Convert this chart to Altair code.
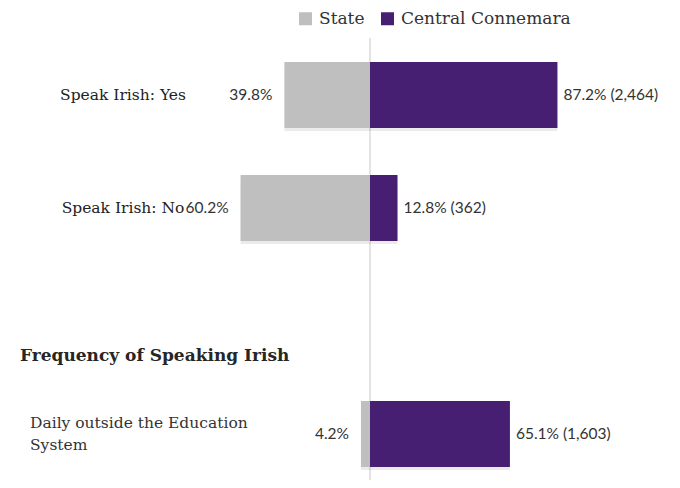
import altair as alt
import pandas as pd

categories = ["Speak Irish: Yes", "Speak Irish: No", "Daily outside the Education System"]
category_text = ["Speak Irish: Yes", "Speak Irish: No", "Daily outside the Education\nSystem"]
state_pct = [39.8, 60.2, 4.2]
connemara_pct = [87.2, 12.8, 65.1]
connemara_n = [2464, 362, 1603]
section_heading = "Frequency of Speaking Irish"
series = ["State", "Central Connemara"]
colors = ["#BFBFBF", "#461F73"]

y_domain = categories[:2] + [section_heading] + categories[2:]

rows = []
for c, t, s, v, n in zip(categories, category_text, state_pct, connemara_pct, connemara_n):
    rows.append({"cat": c, "text": t, "series": "State", "value": s,
                 "signed": -s, "label": f"{s:.1f}%"})
    rows.append({"cat": c, "text": t, "series": "Central Connemara", "value": v,
                 "signed": v, "label": f"{v:.1f}% ({n:,})"})
df = pd.DataFrame(rows)
head_df = pd.DataFrame({"cat": [section_heading], "text": [section_heading]})

xs = alt.Scale(domain=[-168.4, 140.5], nice=False, zero=False)
ys = alt.Scale(domain=y_domain, paddingInner=0.416, paddingOuter=0.2965, align=0.806)

base = alt.Chart(df)
X = alt.X("zero:Q", scale=xs, axis=None)
Y = alt.Y("cat:N", scale=ys, axis=None, sort=y_domain)

shadow = base.mark_bar(color="#000000", opacity=0.08, xOffset=2, yOffset=3).encode(
    x=X, x2="signed:Q", y=Y
).transform_calculate(zero="0")

bars = base.mark_bar().encode(
    x=X, x2="signed:Q", y=Y,
    color=alt.Color("series:N",
                    scale=alt.Scale(domain=series, range=colors),
                    legend=alt.Legend(title=None, orient="none", legendX=289, legendY=2,
                                      direction="horizontal", symbolType="square",
                                      symbolSize=169, symbolStrokeWidth=0,
                                      labelFont="DejaVu Serif", labelFontSize=17,
                                      labelLimit=400,
                                      labelColor="#333333", labelOffset=5,
                                      columnPadding=14, padding=0)),
).transform_calculate(zero="0")

rule = alt.Chart(pd.DataFrame({"zero": [0]})).mark_rule(color="#C8C8C8", strokeWidth=1).encode(
    x=alt.X("zero:Q", scale=xs, axis=None), y=alt.value(30), y2=alt.value(480)
)

state_lbl = base.transform_filter(alt.datum.series == "State").mark_text(
    align="right", baseline="middle", dx=-12, font="Lato", fontSize=15.5, color="#333333"
).encode(x=alt.X("signed:Q", scale=xs, axis=None), y=Y, text="label:N")

conn_lbl = base.transform_filter(alt.datum.series == "Central Connemara").mark_text(
    align="left", baseline="middle", dx=6, font="Lato", fontSize=15.5, color="#333333"
).encode(x=alt.X("signed:Q", scale=xs, axis=None), y=Y, text="label:N")

cat_short = base.transform_filter(
    (alt.datum.series == "State") & (alt.datum.cat != categories[2])
).mark_text(align="center", baseline="middle", font="DejaVu Serif", fontSize=15.5,
            color="#222222").encode(x=alt.value(115), y=Y, text="text:N")

cat_long = base.transform_filter(
    (alt.datum.series == "State") & (alt.datum.cat == categories[2])
).mark_text(align="left", baseline="middle", dy=-11, font="DejaVu Serif", fontSize=15.5,
            lineBreak="\n", lineHeight=22, color="#333333"
            ).encode(x=alt.value(22), y=Y, text="text:N")

heading = alt.Chart(head_df).mark_text(
    align="left", baseline="middle", dy=35, font="DejaVu Serif", fontWeight="bold",
    fontSize=17, color="#262626"
).encode(x=alt.value(12), y=alt.Y("cat:N", scale=ys, axis=None, sort=y_domain), text="text:N")

chart = alt.layer(rule, shadow, bars, state_lbl, conn_lbl, cat_short, cat_long, heading).properties(
    width=664, height=472, padding=0, autosize=alt.AutoSizeParams(type="none")
).configure_view(stroke=None)

chart.save("out.html", embed_options={"renderer": "svg", "actions": False})
